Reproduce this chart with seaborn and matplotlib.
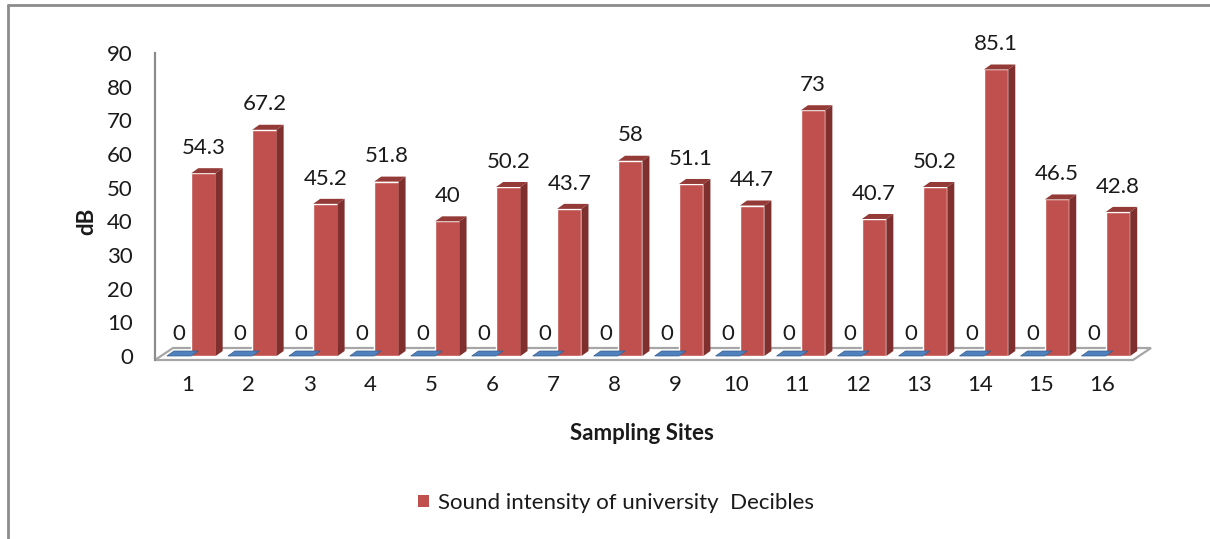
import numpy as np
import pandas as pd
import matplotlib
matplotlib.use("Agg")
import matplotlib.pyplot as plt
from matplotlib.patches import Polygon, Patch
from matplotlib.lines import Line2D
import matplotlib.transforms as mtransforms
import seaborn as sns

# Noise levels at the sampling sites
sites = [str(i) for i in range(1, 17)]
series_blank = "Series1"
series_sound = "Sound intensity of university  Decibles"
blank_values = [0] * 16
sound_values = [54.3, 67.2, 45.2, 51.8, 40, 50.2, 43.7, 58, 51.1, 44.7, 73, 40.7, 50.2, 85.1, 46.5, 42.8]
y_ticks = list(range(0, 91, 10))

df = pd.DataFrame({
    "site": sites * 2,
    "series": [series_blank] * 16 + [series_sound] * 16,
    "value": blank_values + sound_values,
})

sns.set_theme(style="white")
plt.rcParams["font.family"] = ["Lato", "DejaVu Sans"]

BLUE, BLUE_DARK = "#4F81BD", "#385D8A"
RED, RED_SIDE, RED_TOP = "#C0504D", "#7F2F2D", "#943A37"
TEXT = "#1A1A1A"
GRID = "#8C8C8C"
FS = 16

W, H = 1210, 539
fig = plt.figure(figsize=(W / 100, H / 100), dpi=100)
fig.patch.set_facecolor("white")

# axes box in pixel terms: left 155, right 1152, top 53, bottom 360
ax = fig.add_axes([155 / W, (H - 360) / H, (1152 - 155) / W, (360 - 53) / H])
ax.set_facecolor("none")

sns.barplot(data=df, x="site", y="value", hue="series", order=sites,
            hue_order=[series_blank, series_sound], palette=[BLUE, RED],
            width=0.8, saturation=1, legend=False, ax=ax, zorder=2)

px_per_x = 60.97
px_per_y = 3.367
ymin = -4 / px_per_y
xmin = -0.595
ax.set_xlim(xmin, xmin + (1152 - 155) / px_per_x)
ax.set_ylim(ymin, 90)

# floor of the 3-D box
fdx, fdy = 18 / px_per_x, 12 / px_per_y
xfront_r = xmin + (1133 - 155) / px_per_x
floor = Polygon([(xmin, ymin), (xfront_r, ymin), (xfront_r + fdx, ymin + fdy), (xmin + fdx, ymin + fdy)],
                closed=True, facecolor="white", edgecolor="#A6A6A6", lw=1.6, zorder=1, clip_on=False)
ax.add_patch(floor)

# depth faces on every bar
bdx, bdy = 7 / px_per_x, 5 / px_per_y
for cont, top_c, side_c in zip(ax.containers, [BLUE_DARK, RED_TOP], [BLUE_DARK, RED_SIDE]):
    for p in cont.patches:
        x0 = p.get_x()
        x1 = x0 + p.get_width()
        h = p.get_height()
        if h == 0:
            ax.add_patch(Polygon([(x0, 0), (x1, 0), (x1 + bdx, bdy), (x0 + bdx, bdy)],
                                 closed=True, facecolor=BLUE, edgecolor=BLUE_DARK, lw=0.5,
                                 zorder=2, clip_on=False))
            continue
        ax.add_patch(Polygon([(x0, h), (x1, h), (x1 + bdx, h + bdy), (x0 + bdx, h + bdy)],
                             closed=True, facecolor=top_c, edgecolor="none", zorder=2, clip_on=False))
        ax.add_patch(Polygon([(x1, 0), (x1, h), (x1 + bdx, h + bdy), (x1 + bdx, bdy)],
                             closed=True, facecolor=side_c, edgecolor="none", zorder=2, clip_on=False))

# value labels
for cont, pad in zip(ax.containers, [9, 11]):
    ax.bar_label(cont, fmt="%g", padding=pad, fontsize=FS, color=TEXT, clip_on=False)

# axes styling
for s in ["top", "right", "bottom"]:
    ax.spines[s].set_visible(False)
ax.spines["left"].set_color(GRID)
ax.spines["left"].set_linewidth(1.6)
ax.set_yticks(y_ticks)
ax.set_yticklabels([str(v) for v in y_ticks])
ax.tick_params(axis="y", length=0, pad=16, labelsize=FS, labelcolor=TEXT)
ax.tick_params(axis="x", length=0, pad=11, labelsize=FS, labelcolor=TEXT)
shift = mtransforms.ScaledTranslation(-4 / 100, 0, fig.dpi_scale_trans)
for lbl in ax.get_xticklabels():
    lbl.set_transform(lbl.get_transform() + shift)

ax.set_ylabel("dB", fontsize=FS, fontweight="bold", color=TEXT)
ax.yaxis.set_label_coords(-0.058, 0.45)
ax.set_xlabel("Sampling Sites", fontsize=FS, fontweight="bold", color=TEXT)
ax.xaxis.set_label_coords(0.488, -0.205)

fig.legend(handles=[Patch(facecolor=RED, edgecolor="none")], labels=[series_sound],
           loc="center", bbox_to_anchor=(616 / W, 1 - 503 / H), frameon=False,
           fontsize=FS, handlelength=0.5, handleheight=0.5, handletextpad=0.4,
           labelcolor=TEXT)

# outer frame (top and left edges)
fig.add_artist(Line2D([8 / W, 1], [1 - 5 / H, 1 - 5 / H], transform=fig.transFigure, color=GRID, lw=2))
fig.add_artist(Line2D([8 / W, 8 / W], [0, 1 - 5 / H], transform=fig.transFigure, color=GRID, lw=2))

fig.savefig("out.png", dpi=100, facecolor="white")
